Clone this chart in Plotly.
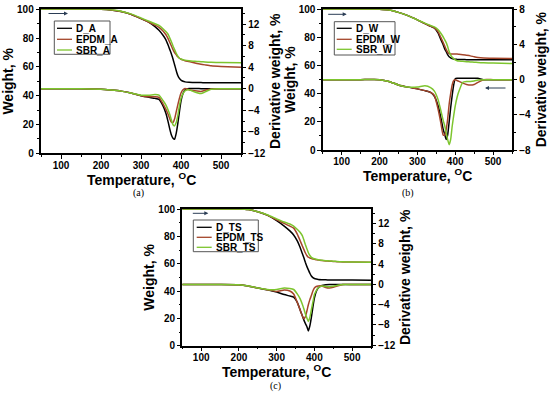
import plotly.graph_objects as go

# ---------------- data ----------------
temperature = [50, 150, 200, 225, 250, 275, 300, 320, 335, 345, 355, 362, 368, 372, 376,
               380, 384, 388, 392, 396, 400, 405, 410, 420, 430, 440, 450, 460, 475, 500, 550]

x_ticks = [100, 200, 300, 400, 500]
w_ticks = [0, 20, 40, 60, 80, 100]
d_ticks_ac = [-12, -8, -4, 0, 4, 8, 12]
d_ticks_b = [-8, -4, 0, 4, 8]

# (a)
w_D_A = [100, 100, 100, 99.6, 98.5, 96.5, 93.5, 91, 88, 85.5, 82, 79, 75, 72, 69, 65.5, 61.5,
         57.5, 54, 52, 50.8, 50, 49.6, 49.3, 49.2, 49.1, 49.1, 49, 49, 49, 49]
w_EPDM_A = [100, 100, 100, 99.6, 98.5, 96.5, 93.5, 91, 89, 87.5, 85, 82.5, 79.5, 77, 74.5, 72, 70,
            68.5, 67, 66, 65.3, 64.8, 64.3, 63.7, 63, 62.3, 61.8, 61.4, 60.8, 60.3, 59.7]
w_SBR_A = [100, 100, 100, 99.7, 98.7, 96.8, 94, 91.7, 90, 88.8, 86.5, 84.5, 82.5, 80, 77.5, 74.5,
           72, 69.5, 67.5, 66, 65.5, 65, 64.7, 64.3, 64, 63.8, 63.6, 63.4, 63.2, 63, 62.8]
d_D_A = [0, 0, -0.1, -0.25, -0.45, -0.8, -1.3, -1.6, -1.8, -2.0, -3.2, -4.5, -6.2, -7.5, -8.6,
         -9.2, -9.4, -8.3, -6.5, -4.3, -2.3, -0.9, -0.2, 0.05, 0.05, 0.05, 0, 0, 0, 0, 0]
d_EPDM_A = [0, 0, -0.1, -0.25, -0.45, -0.8, -1.3, -1.5, -1.5, -1.6, -2.8, -3.8, -4.8, -5.6, -6.2,
            -6.3, -5.6, -4.3, -3.0, -1.8, -0.8, -0.2, 0.05, -0.2, -0.35, -0.45, -0.5, -0.3, -0.05, 0, 0]
d_SBR_A = [0, 0, -0.1, -0.25, -0.45, -0.8, -1.2, -1.2, -1.1, -1.2, -2.2, -3.0, -4.0, -4.8, -5.8,
           -6.7, -6.9, -6.3, -5.0, -3.2, -1.8, -0.9, -0.4, -0.2, -0.5, -0.75, -0.9, -0.6, -0.1, 0, 0]

# (b)
w_D_W = [100, 100, 100, 99.5, 97.8, 95.5, 92.5, 89.8, 88, 86.7, 83, 78.5, 75, 72, 70, 67.8, 66.3,
         65.5, 65, 64.7, 64.5, 64.4, 64.3, 64.3, 64.2, 64.2, 64.2, 64.2, 64.2, 64.2, 64.2]
w_EPDM_W = [100, 100, 100, 99.5, 97.8, 95.5, 92.5, 89.8, 88, 86.7, 84, 80, 76.5, 74, 71.5, 69.5,
            68.5, 68.3, 68.2, 68.2, 68.2, 68.2, 68, 67.7, 67.3, 66.9, 66.3, 65.8, 65.4, 65.2, 65]
w_SBR_W = [100, 100, 100, 99.5, 97.8, 95.5, 92.5, 90.2, 88.5, 87.5, 85.4, 83, 80.5, 78.5, 76.5,
           73.5, 70, 67.5, 66, 65, 64, 63.5, 63.3, 63, 62.8, 62.6, 62.4, 62.2, 62, 61.8, 61.5]
d_D_W = [0, 0, 0, -0.2, -0.6, -0.85, -1.05, -1.25, -1.45, -1.9, -3.0, -4.3, -5.6, -6.2, -6.8,
         -6.3, -4.8, -3.2, -1.8, -0.6, 0.1, 0.15, 0.15, 0.15, 0.15, 0.15, 0.15, 0.15, 0, 0, 0]
d_EPDM_W = [0, 0, 0, -0.2, -0.6, -0.85, -1.05, -1.25, -1.45, -1.8, -3.4, -4.9, -6.3, -6.3, -5.7,
            -4.5, -2.8, -1.6, -0.6, -0.1, 0, -0.1, -0.2, -0.4, -0.55, -0.62, -0.55, -0.3, 0, 0, 0]
d_SBR_W = [0, 0, 0, -0.2, -0.6, -0.85, -0.85, -0.7, -0.9, -1.3, -2.3, -3.5, -4.6, -5.2, -6.0,
           -6.8, -7.4, -6.8, -5.3, -4.1, -3.0, -2.0, -1.3, -0.3, -0.2, -0.2, -0.15, -0.05, 0, 0, 0]

# (c)
w_D_TS = [100, 100, 100, 99.6, 98, 95.5, 91.5, 87.5, 84, 81, 76.5, 72, 67.5, 64.5, 61, 58, 55.5,
          53, 51, 49.8, 49.2, 48.8, 48.5, 48.3, 48.2, 48.1, 48.1, 48, 48, 48, 47.8]
w_EPDM_TS = [100, 100, 100, 99.6, 98, 95.5, 92, 89.5, 87.5, 86, 81.5, 77, 73, 70.5, 68, 66, 64.7,
             64.2, 63.8, 63.5, 63.2, 62.9, 62.6, 62.3, 62, 61.8, 61.6, 61.5, 61.3, 61.2, 61]
w_SBR_TS = [100, 100, 100, 99.6, 98, 95.8, 92.8, 90.5, 89, 87.5, 85, 83, 80.5, 77.5, 74, 71, 68,
            66, 64.6, 64, 63.6, 63.2, 62.9, 62.5, 62.2, 62, 61.8, 61.6, 61.4, 61.2, 61]
d_D_TS = [0, 0, -0.05, -0.3, -0.7, -1.05, -1.5, -2.0, -2.3, -2.5, -3.6, -5.0, -6.2, -7.0, -7.7,
          -8.3, -9.2, -8.2, -6.5, -4.5, -2.7, -1.4, -0.7, -0.2, -0.05, 0, 0, 0, 0, 0, 0]
d_EPDM_TS = [0, 0, -0.05, -0.3, -0.7, -1.05, -1.4, -1.1, -1.3, -1.9, -3.6, -5.0, -6.2, -6.8, -6.4,
             -5.3, -4.0, -3.0, -2.2, -1.3, -0.7, -0.4, -0.3, -0.3, -0.6, -0.7, -0.55, -0.3, 0, 0, 0]
d_SBR_TS = [0, 0, -0.05, -0.3, -0.7, -1.0, -1.0, -0.7, -0.8, -1.0, -1.9, -2.8, -3.9, -4.8, -5.8,
            -6.6, -7.3, -6.5, -5.0, -3.5, -2.0, -1.2, -0.7, -0.3, -0.4, -0.45, -0.35, -0.2, 0, 0, 0]

series_names = {
    "a": ["D_A", "EPDM_A", "SBR_A"],
    "b": ["D_W", "EPDM_W", "SBR_W"],
    "c": ["D_TS", "EPDM_TS", "SBR_TS"],
}
colors = ["#000000", "#a4452a", "#7dc52e"]

# ---------------- layout helpers ----------------
W, H = 550, 395
def px(x):
    return x / W
def py(y):
    return 1 - y / H

FONT = "Liberation Sans"

panels = {
    "a": dict(box=(41, 241, 9.3, 153.3), drange=[-12, 14.75], dticks=d_ticks_ac, xt=179,
              w=[w_D_A, w_EPDM_A, w_SBR_A], d=[d_D_A, d_EPDM_A, d_SBR_A],
              xa="xaxis", ya="yaxis", ya2="yaxis2", xr="x", yr="y", yr2="y2"),
    "b": dict(box=(322.7, 512, 9.3, 150), drange=[-8, 8], dticks=d_ticks_b, xt=175,
              w=[w_D_W, w_EPDM_W, w_SBR_W], d=[d_D_W, d_EPDM_W, d_SBR_W],
              xa="xaxis2", ya="yaxis3", ya2="yaxis4", xr="x2", yr="y3", yr2="y4"),
    "c": dict(box=(182.3, 371, 209, 345.7), drange=[-12.1, 14.9], dticks=d_ticks_ac, xt=370.5,
              w=[w_D_TS, w_EPDM_TS, w_SBR_TS], d=[d_D_TS, d_EPDM_TS, d_SBR_TS],
              xa="xaxis3", ya="yaxis5", ya2="yaxis6", xr="x3", yr="y5", yr2="y6"),
}

fig = go.Figure()

tickfont = dict(family=FONT, size=10, color="black", weight="bold")
titlefont = dict(family=FONT, size=14, color="black", weight="bold")
axis_common = dict(showline=True, linecolor="black", linewidth=1.5, ticks="outside",
                   ticklen=3.5, tickwidth=1.2, tickcolor="black", showgrid=False,
                   zeroline=False, tickfont=tickfont, automargin=False)

shapes = []
annotations = []
layout = {}
for key, p in panels.items():
    l, r, t, b = p["box"]
    for i in range(3):
        fig.add_trace(go.Scatter(x=temperature, y=p["w"][i], mode="lines",
                                 name=series_names[key][i], showlegend=False,
                                 line=dict(color=colors[i], width=1.5, shape="spline", smoothing=0.45),
                                 xaxis=p["xr"], yaxis=p["yr"]))
        fig.add_trace(go.Scatter(x=temperature, y=p["d"][i], mode="lines",
                                 name=series_names[key][i], showlegend=False,
                                 line=dict(color=colors[i], width=1.5, shape="spline", smoothing=0.45),
                                 xaxis=p["xr"], yaxis=p["yr2"]))
    layout[p["xa"]] = dict(axis_common, domain=[px(l), px(r)], anchor=p["yr"], range=[50, 550],
                           tickvals=x_ticks, mirror=True, ticklabelstandoff=-2,
                           minor=dict(ticks="outside", ticklen=2, dtick=50, tick0=50, tickcolor="black"))
    layout[p["ya"]] = dict(axis_common, domain=[py(b), py(t)], anchor=p["xr"], range=[0, 100],
                           tickvals=w_ticks,
                           minor=dict(ticks="outside", ticklen=2, dtick=10, tick0=0, tickcolor="black"),
                           title=dict(text="Weight, %", font=titlefont, standoff=0))
    layout[p["ya2"]] = dict(axis_common, overlaying=p["yr"], side="right", anchor=p["xr"],
                            range=p["drange"], tickvals=p["dticks"],
                            minor=dict(ticks="outside", ticklen=2, dtick=2, tick0=0, tickcolor="black"),
                            title=dict(text="Derivative weight, %", font=titlefont, standoff=6))
    annotations.append(dict(xref="paper", yref="paper", x=px((l + r) / 2), y=py(p["xt"]),
                            text="Temperature, <sup>O</sup>C", showarrow=False,
                            xanchor="center", yanchor="middle", font=titlefont))

fig.update_layout(**layout)

legends = {
    "a": dict(box=(54.3, 21, 110, 54.3), ys=[28.3, 39.3, 50], lx=(57, 72), tx=74),
    "b": dict(box=(334.3, 21.7, 395, 55), ys=[28.3, 39.3, 49.3], lx=(336.7, 351.7), tx=354),
    "c": dict(box=(193.3, 220, 258.3, 251.7), ys=[227.3, 237.3, 247.3], lx=(196.7, 211.7), tx=213.5),
}
for key, lg in legends.items():
    l, t, r, b = lg["box"]
    shapes.append(dict(type="rect", xref="paper", yref="paper", x0=px(l), x1=px(r),
                       y0=py(b), y1=py(t), line=dict(color="#555", width=1), fillcolor="rgba(0,0,0,0)"))
    for i, yy in enumerate(lg["ys"]):
        shapes.append(dict(type="line", xref="paper", yref="paper", x0=px(lg["lx"][0]),
                           x1=px(lg["lx"][1]), y0=py(yy), y1=py(yy),
                           line=dict(color=colors[i], width=1.3)))
        annotations.append(dict(xref="paper", yref="paper", x=px(lg["tx"]), y=py(yy),
                                text=series_names[key][i], showarrow=False, xanchor="left",
                                yanchor="middle", font=dict(family=FONT, size=10, color="black",
                                                            weight="bold")))

arrows = [(68, 13.5, -21), (346.7, 14.3, -20), (208.3, 213.3, -17), (485, 88, 22)]
for hx, hy, dx in arrows:
    annotations.append(dict(xref="paper", yref="paper", x=px(hx), y=py(hy), ax=dx, ay=0,
                            text="", showarrow=True, arrowhead=2, arrowsize=0.8,
                            arrowwidth=1, arrowcolor="#2b3d55"))

for txt, cx, cy in [("(a)", 138, 193), ("(b)", 408, 193), ("(c)", 275, 386)]:
    annotations.append(dict(xref="paper", yref="paper", x=px(cx), y=py(cy), text=txt,
                            showarrow=False, xanchor="center", yanchor="middle",
                            font=dict(family="Liberation Serif", size=10, color="black")))

fig.update_layout(shapes=shapes, annotations=annotations,
                  width=W, height=H, margin=dict(l=0, r=0, t=0, b=0),
                  paper_bgcolor="white", plot_bgcolor="white", showlegend=False)

fig.write_html("out.html", config={"displayModeBar": False},
               post_script="document.body.style.margin='0px';document.body.style.padding='0px';")
